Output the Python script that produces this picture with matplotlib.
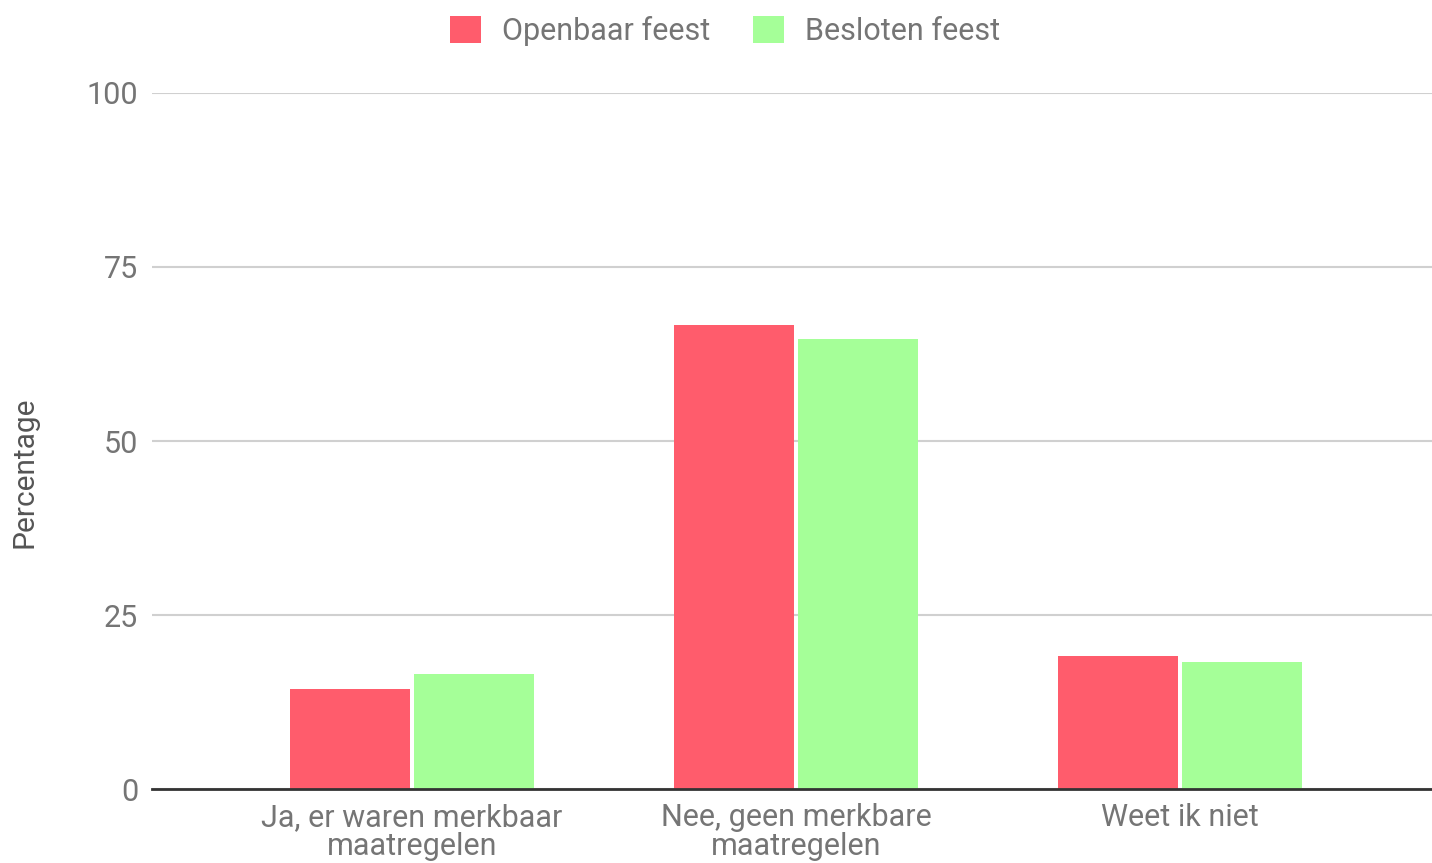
import matplotlib
matplotlib.use("Agg")
import matplotlib.pyplot as plt
import numpy as np
from matplotlib.patches import Patch

categories = ["Ja, er waren merkbaar\nmaatregelen", "Nee, geen merkbare\nmaatregelen", "Weet ik niet"]
openbaar = [14.3, 66.7, 19.1]
besloten = [16.5, 64.7, 18.3]
series_names = ["Openbaar feest", "Besloten feest"]
yticks = [0, 25, 50, 75, 100]

red = "#FF5C6C"
green = "#A5FF98"
textc = "#757575"

plt.rcParams['font.family'] = ['Roboto', 'DejaVu Sans']

W, H = 1432, 863
fig = plt.figure(figsize=(W / 100, H / 100), dpi=100)
ax_left, ax_right = 152 / W, 1.0
ax_bottom, ax_top = 1 - 789 / H, 1 - 93 / H
ax = fig.add_axes([ax_left, ax_bottom, ax_right - ax_left, ax_top - ax_bottom])

x = np.arange(len(categories))
bw = 0.31
off = 0.1615
ax.bar(x - off, openbaar, width=bw, color=red, zorder=3)
ax.bar(x + off, besloten, width=bw, color=green, zorder=3)

ax.set_ylim(0, 100)
ax.set_xlim((152 - 412) / 384, (1432 - 412) / 384)
ax.set_yticks(yticks)
ax.set_yticklabels([str(t) for t in yticks], fontsize=22, color=textc)
ax.set_xticks(x)
ax.set_xticklabels(categories, fontsize=22, color=textc, linespacing=1.0)
ax.tick_params(axis='both', length=0)
ax.tick_params(axis='y', pad=10)
ax.tick_params(axis='x', pad=10)
ax.grid(axis='y', color="#d0d0d0", linewidth=1.5, zorder=0)
for s in ["top", "right", "left"]:
    ax.spines[s].set_visible(False)
ax.spines["bottom"].set_color("#333333")
ax.spines["bottom"].set_linewidth(2)
ax.spines["bottom"].set_zorder(4)

fig.text(25 / W, 1 - 472 / H, "Percentage", rotation=90, fontsize=21.5, color="#555555",
         ha="center", va="center")

handles = [Patch(facecolor=red, edgecolor="none"), Patch(facecolor=green, edgecolor="none")]
fig.legend(handles, series_names, loc="center", bbox_to_anchor=(725 / W, 1 - 31 / H), ncol=2,
           frameon=False, fontsize=22, labelcolor=textc, handlelength=1.0, handleheight=1.0,
           handletextpad=0.7, columnspacing=1.4)

fig.savefig("out.png", dpi=100)
